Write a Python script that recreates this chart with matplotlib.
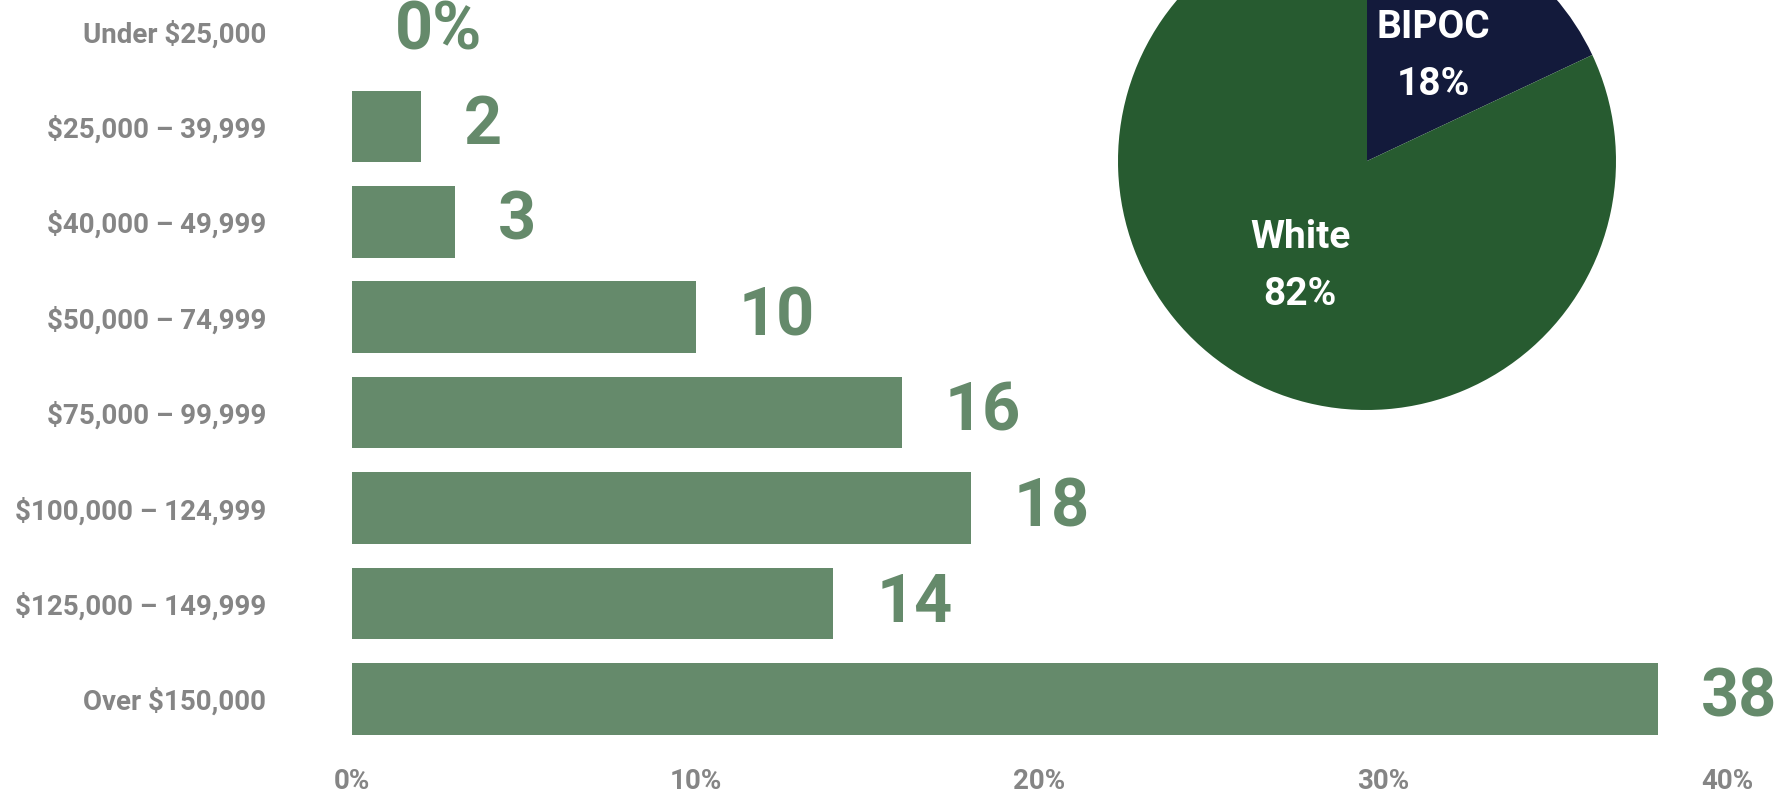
import matplotlib
matplotlib.use("Agg")
import matplotlib.pyplot as plt

# income distribution (percent of respondents)
income_labels = [
    "Under $25,000",
    "$25,000 – 39,999",
    "$40,000 – 49,999",
    "$50,000 – 74,999",
    "$75,000 – 99,999",
    "$100,000 – 124,999",
    "$125,000 – 149,999",
    "Over $150,000",
]
income_pct = [0, 2, 3, 10, 16, 18, 14, 38]
x_ticks = [0, 10, 20, 30, 40]

# race split for the pie
race_labels = ["BIPOC", "White"]
race_pct = [18, 82]
race_colors = ["#131a3b", "#275b30"]

bar_color = "#658a6b"
gray = "#858585"

plt.rcParams["font.family"] = ["Roboto", "DejaVu Sans"]

W, H = 1779, 794
fig = plt.figure(figsize=(W / 100, H / 100), dpi=100)

# bar chart, placed in pixel terms: 0% at x=352, 40% at x=1727
ax = fig.add_axes([352 / W, (H - 740) / H, (1727 - 352) / W, 740 / H])
pos = list(range(len(income_labels)))
ax.barh(pos, income_pct, height=0.75, color=bar_color)
ax.set_xlim(0, 40)
ax.set_ylim(7.43, -0.325)
ax.set_yticks(pos)
ax.set_yticklabels(income_labels, color=gray, fontsize=20, fontweight="bold")
ax.set_xticks(x_ticks)
ax.set_xticklabels([f"{t}%" for t in x_ticks], color=gray, fontsize=20,
                   fontweight="bold")
ax.tick_params(axis="y", length=0, pad=62)
ax.tick_params(axis="x", length=0, pad=20)
for s in ax.spines.values():
    s.set_visible(False)

for i, v in enumerate(income_pct):
    txt = f"{v}%" if i == 0 else f"{v}"
    ax.annotate(txt, (v, i), xytext=(31, 0), textcoords="offset points",
                ha="left", va="center", fontsize=48, fontweight="bold",
                color=bar_color, annotation_clip=False)

# pie, centered at (1367, 161) px from top, radius 249 px
cx, cy, r = 1367, 161, 249
pax = fig.add_axes([(cx - r) / W, (H - cy - r) / H, 2 * r / W, 2 * r / H])
pax.pie(race_pct, colors=race_colors, startangle=90, counterclock=False,
        labels=[f"{n}\n{p}%" for n, p in zip(race_labels, race_pct)],
        labeldistance=0.5,
        textprops=dict(color="white", fontsize=28, fontweight="bold",
                       ha="center", va="center", linespacing=1.7),
        wedgeprops=dict(linewidth=0))
pax.set_xlim(-1, 1)
pax.set_ylim(-1, 1)
pax.axis("off")

fig.savefig("out.png", dpi=100)
